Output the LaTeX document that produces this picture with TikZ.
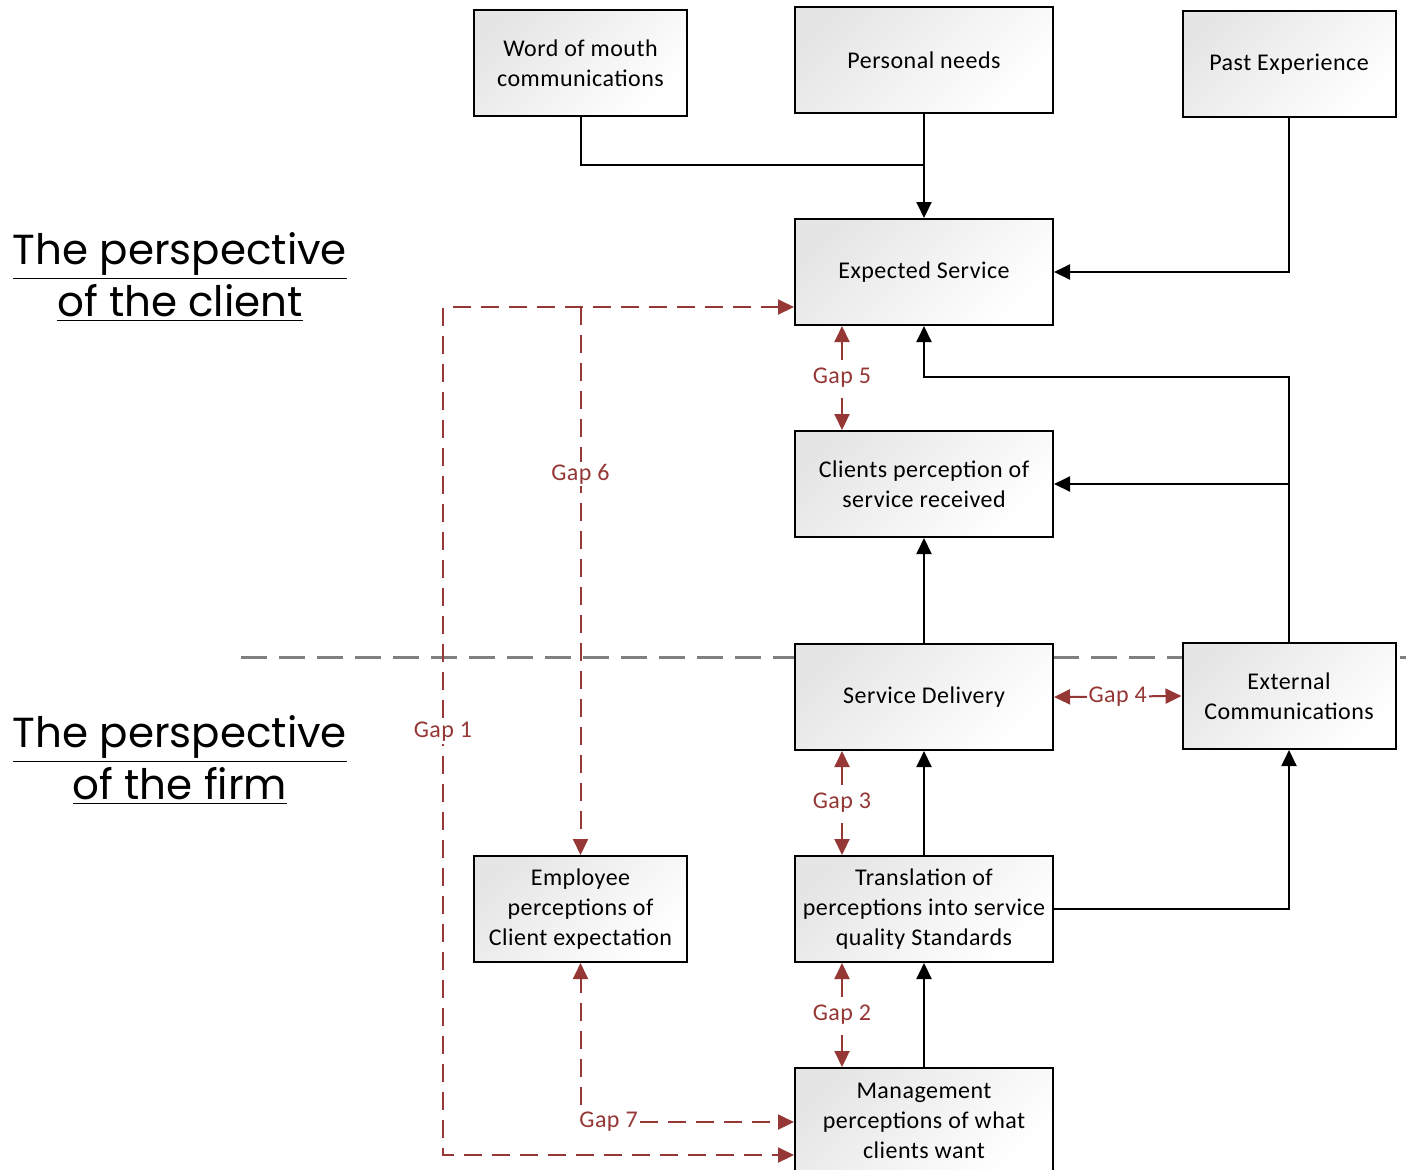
\documentclass[tikz,border=0pt]{standalone}
\usepackage{fontspec}
\setmainfont{Carlito}[LetterSpace=2]
\newfontfamily\titlefont{Poppins}
\usetikzlibrary{arrows.meta}
\definecolor{gapred}{RGB}{149,55,53}
\definecolor{divgray}{RGB}{128,128,128}
\tikzset{
  box/.style={draw=black, line width=1pt, minimum width=129pt, minimum height=53pt,
    inner sep=0pt, align=center, top color=black!10, bottom color=white, shading angle=45,
    font=\fontsize{12}{15}\selectfont},
  nbox/.style={box, minimum width=106.5pt},
  conn/.style={draw=black, line width=1pt},
  flow/.style={conn, -{Triangle[length=8pt,width=7.5pt]}},
  gapline/.style={draw=gapred, line width=1pt, dash pattern=on 9pt off 5pt},
  gap/.style={gapline, {Triangle[length=8pt,width=7.5pt]}-{Triangle[length=8pt,width=7.5pt]}},
  gapend/.style={gapline, -{Triangle[length=8pt,width=7.5pt]}},
  gaplbl/.style={text=gapred, fill=white, inner sep=1pt, font=\fontsize{12}{15}\selectfont},
  divider/.style={draw=divgray, line width=1.5pt, dash pattern=on 13pt off 6pt},
  titletext/.style={align=center, font=\titlefont\fontsize{21}{26}\selectfont}
}
\begin{document}
\begin{tikzpicture}[x=0.5pt,y=-0.5pt]
\fill[white] (0,0) rectangle (1406,1169);
\useasboundingbox (0,0) rectangle (1406,1169);

% divider
\draw[divider] (241,657) -- (795,657);
\draw[divider] (1053,657) -- (1183,657);
\draw[divider] (1400,657) -- (1410,657);

% titles
\node[titletext] (tclient) at (180,277) {\underline{The perspective}\\\underline{of the client}};
\node[titletext] (tfirm) at (180,760) {\underline{The perspective}\\\underline{of the firm}};

% boxes
\node[nbox] (wom) at (580.5,63) {Word of mouth\\communications};
\node[box] (pn) at (924,60) {Personal needs};
\node[nbox] (pe) at (1289,64) {Past Experience};
\node[box] (es) at (924,272) {Expected Service};
\node[box] (cp) at (924,484) {Clients perception of\\service received};
\node[box] (sd) at (924,697) {Service Delivery};
\node[nbox] (ec) at (1289,696) {External\\Communications};
\node[nbox] (emp) at (580.5,909) {Employee\\perceptions of\\Client expectation};
\node[box] (tr) at (924,909) {Translation of\\perceptions into service\\quality Standards};
\node[box] (mg) at (924,1121) {Management\\perceptions of what\\clients want};

% black connectors
\coordinate (j1) at (924,165);
\coordinate (j2) at (1289,377);
\draw[conn] (wom.south) |- (j1);
\draw[flow] (pn.south) -- (es.north);
\draw[flow] (pe.south) |- (es.east);
\draw[flow] (ec.north) -- (j2) -| (es.south);
\draw[flow] (ec.north |- cp.east) -- (cp.east);
\draw[flow] (sd.north) -- (cp.south);
\draw[flow] (tr.north) -- (sd.south);
\draw[flow] (tr.east) -| (ec.south);
\draw[flow] (mg.north) -- (tr.south);

% gaps
\draw[gap] ([xshift=-41pt]es.south) -- node[gaplbl]{Gap 5} ([xshift=-41pt]cp.north);
\draw[gap] ([xshift=-41pt]sd.south) -- node[gaplbl]{Gap 3} ([xshift=-41pt]tr.north);
\draw[gap] ([xshift=-41pt]tr.south) -- node[gaplbl]{Gap 2} ([xshift=-41pt]mg.north);
\draw[gap, solid] (sd.east) -- node[gaplbl]{Gap 4} (ec.west);

\coordinate (g1top) at (443,307);
\coordinate (g1bot) at (443,1155);
\coordinate (g6top) at (580.5,307);
\draw[gap] (es.west |- g1top) -- (g1top) -- (g1bot) -- (mg.west |- g1bot);
\node[gaplbl] (g1) at (443,732) {Gap 1};
\draw[gapend] (g6top) -- (emp.north);
\node[gaplbl] (g6) at (580.5,474) {Gap 6};

\node[gaplbl, anchor=west] (g7) at (577,1122) {Gap 7};
\coordinate (g7up) at (580.5,1105);
\draw[gapend] (g7up) -- (emp.south);
\draw[gapend] (g7.east) -- (mg.west |- g7);
\end{tikzpicture}
\end{document}
